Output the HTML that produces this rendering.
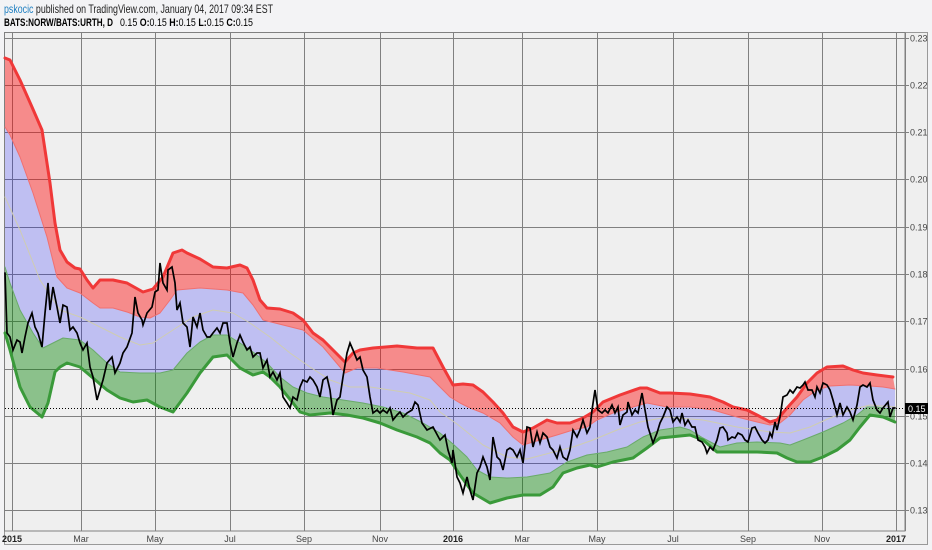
<!DOCTYPE html>
<html><head><meta charset="utf-8"><style>
html,body{margin:0;padding:0;background:#f3f3f5;}
svg{display:block;}
text{font-family:"Liberation Sans",sans-serif;}
</style></head><body>
<svg width="932" height="550" viewBox="0 0 932 550" xmlns="http://www.w3.org/2000/svg">
<rect x="0" y="0" width="932" height="550" fill="#f3f3f5"/>
<text x="4" y="13" font-size="12" fill="#222" textLength="269" lengthAdjust="spacingAndGlyphs"><tspan fill="#1f7fc0">pskocic</tspan> published on TradingView.com, January 04, 2017 09:34 EST</text>
<text x="4" y="26" font-size="11" fill="#000" font-weight="bold" textLength="109" lengthAdjust="spacingAndGlyphs">BATS:NORW/BATS:URTH, D</text>
<text x="120" y="26" font-size="11" fill="#000" textLength="133" lengthAdjust="spacingAndGlyphs">0.15 <tspan font-weight="bold">O:</tspan>0.15 <tspan font-weight="bold">H:</tspan>0.15 <tspan font-weight="bold">L:</tspan>0.15 <tspan font-weight="bold">C:</tspan>0.15</text>

<!-- frame -->
<rect x="4.5" y="32.5" width="923" height="512" fill="#efefef" stroke="#999" stroke-width="1"/>
<rect x="4.5" y="32.5" width="900.5" height="498.5" fill="#efefef" stroke="#808080" stroke-width="1"/>

<!-- grid -->
<g stroke="#808080" stroke-width="1">
<line x1="5" x2="905" y1="38.5" y2="38.5"/>
<line x1="5" x2="905" y1="85.5" y2="85.5"/>
<line x1="5" x2="905" y1="132.5" y2="132.5"/>
<line x1="5" x2="905" y1="179.5" y2="179.5"/>
<line x1="5" x2="905" y1="227.5" y2="227.5"/>
<line x1="5" x2="905" y1="274.5" y2="274.5"/>
<line x1="5" x2="905" y1="321.5" y2="321.5"/>
<line x1="5" x2="905" y1="369.5" y2="369.5"/>
<line x1="5" x2="905" y1="416.5" y2="416.5"/>
<line x1="5" x2="905" y1="463.5" y2="463.5"/>
<line x1="5" x2="905" y1="510.5" y2="510.5"/>
<line y1="33" y2="531" x1="12.5" x2="12.5"/>
<line y1="33" y2="531" x1="81.5" x2="81.5"/>
<line y1="33" y2="531" x1="155.5" x2="155.5"/>
<line y1="33" y2="531" x1="230.5" x2="230.5"/>
<line y1="33" y2="531" x1="304.5" x2="304.5"/>
<line y1="33" y2="531" x1="380.5" x2="380.5"/>
<line y1="33" y2="531" x1="453.5" x2="453.5"/>
<line y1="33" y2="531" x1="522.5" x2="522.5"/>
<line y1="33" y2="531" x1="597.5" x2="597.5"/>
<line y1="33" y2="531" x1="673.5" x2="673.5"/>
<line y1="33" y2="531" x1="748.5" x2="748.5"/>
<line y1="33" y2="531" x1="822.5" x2="822.5"/>
<line y1="33" y2="531" x1="896.5" x2="896.5"/>
</g>

<!-- fills -->
<polygon fill="rgba(255,0,0,0.42)" points="5,58 10,60 20,80 32,107 42,130 50,183 55,223 60,250 67,262 75,268 80,269 87,280 93,288 100,280 113,280 127,283 143,292 153,289 163,277 173,253 182,250 187,253 200,259 213,267 227,268 240,265 247,268 253,280 260,300 267,308 280,309 293,313 303,320 313,333 323,340 333,350 345,362 353,353 360,350 373,348 397,346 417,348 433,348 443,367 453,385 463,384 473,385 483,392 493,402 503,413 513,427 523,432 533,428 547,420 557,423 570,423 583,418 593,412 603,402 620,395 640,388 647,388 660,393 670,393 690,394 710,397 723,402 733,407 747,410 757,415 770,422 777,420 787,408 797,397 807,383 817,373 827,367 843,366 853,370 863,373 877,375 893,377 895,389 883,387 870,386 850,385 830,386 817,390 803,400 790,415 780,423 770,425 757,422 737,417 713,410 690,407 667,407 647,403 633,407 613,413 597,420 587,427 573,430 557,435 540,440 523,445 513,437 500,423 483,413 470,408 460,403 450,397 440,387 430,377 403,372 377,368 357,368 345,373 323,347 303,330 283,325 263,320 253,305 243,293 227,290 200,288 177,290 170,300 160,313 150,318 140,317 127,312 113,308 100,308 93,303 80,293 67,288 57,277 47,237 33,193 20,157 10,135 5,127"/>
<polygon fill="rgba(0,0,255,0.2)" points="5,127 10,135 20,157 33,193 47,237 57,277 67,288 80,293 93,303 100,308 113,308 127,312 140,317 150,318 160,313 170,300 177,290 200,288 227,290 243,293 253,305 263,320 283,325 303,330 323,347 345,373 357,368 377,368 403,372 430,377 440,387 450,397 460,403 470,408 483,413 500,423 513,437 523,445 540,440 557,435 573,430 587,427 597,420 613,413 633,407 647,403 667,407 690,407 713,410 737,417 757,422 770,425 780,423 790,415 803,400 817,390 830,386 850,385 870,386 883,387 895,389 895,410 877,407 867,407 857,415 843,423 823,432 803,440 790,445 780,443 757,442 737,443 720,447 703,438 690,430 680,427 660,430 643,437 627,447 607,452 587,455 567,462 550,473 527,477 507,478 490,477 477,470 467,457 453,444 440,433 423,423 403,413 383,407 363,403 343,400 323,397 307,393 293,387 280,377 267,363 253,352 240,343 227,335 213,335 200,342 187,353 173,370 160,373 140,373 120,372 107,363 93,350 80,340 63,338 53,343 43,348 33,333 20,310 10,283 5,267"/>
<polygon fill="rgba(0,128,0,0.42)" points="5,267 10,283 20,310 33,333 43,348 53,343 63,338 80,340 93,350 107,363 120,372 140,373 160,373 173,370 187,353 200,342 213,335 227,335 240,343 253,352 267,363 280,377 293,387 307,393 323,397 343,400 363,403 383,407 403,413 423,423 440,433 453,444 467,457 477,470 490,477 507,478 527,477 550,473 567,462 587,455 607,452 627,447 643,437 660,430 680,427 690,430 703,438 720,447 737,443 757,442 780,443 790,445 803,440 823,432 843,423 857,415 867,407 877,407 895,410 895,422 883,417 870,415 860,427 850,440 837,450 823,457 810,462 797,462 787,458 777,453 757,452 737,452 717,452 703,440 690,435 670,437 660,438 647,448 633,458 613,462 597,467 590,465 577,468 563,473 553,487 540,495 523,495 507,498 490,503 473,493 460,475 450,460 440,453 430,443 417,437 397,430 380,423 363,418 347,415 330,413 310,415 300,412 293,403 280,387 270,377 263,372 253,375 240,368 227,355 213,357 200,373 187,393 173,412 160,407 147,400 133,402 120,398 107,390 93,378 80,367 67,363 60,367 55,372 48,403 42,417 30,407 20,387 10,350 5,333"/>

<!-- lines -->
<g fill="none" stroke-linejoin="round" stroke-linecap="round">
<polyline stroke="#cfcdb0" stroke-width="1" points="5,197 20,230 40,280 60,310 80,317 100,327 120,337 140,345 153,343 173,330 193,317 213,310 233,313 250,323 270,337 290,353 310,367 330,380 350,387 370,387 390,390 410,393 430,400 440,412 457,424 483,445 507,457 527,459 550,453 573,447 593,440 617,430 640,422 667,417 703,420 737,427 770,432 790,433 810,427 830,418 850,410 870,405 895,407"/>
<polyline stroke="#f07070" stroke-width="1" points="5,127 10,135 20,157 33,193 47,237 57,277 67,288 80,293 93,303 100,308 113,308 127,312 140,317 150,318 160,313 170,300 177,290 200,288 227,290 243,293 253,305 263,320 283,325 303,330 323,347 345,373 357,368 377,368 403,372 430,377 440,387 450,397 460,403 470,408 483,413 500,423 513,437 523,445 540,440 557,435 573,430 587,427 597,420 613,413 633,407 647,403 667,407 690,407 713,410 737,417 757,422 770,425 780,423 790,415 803,400 817,390 830,386 850,385 870,386 883,387 895,389"/>
<polyline stroke="#6aaa6a" stroke-width="1" points="5,267 10,283 20,310 33,333 43,348 53,343 63,338 80,340 93,350 107,363 120,372 140,373 160,373 173,370 187,353 200,342 213,335 227,335 240,343 253,352 267,363 280,377 293,387 307,393 323,397 343,400 363,403 383,407 403,413 423,423 440,433 453,444 467,457 477,470 490,477 507,478 527,477 550,473 567,462 587,455 607,452 627,447 643,437 660,430 680,427 690,430 703,438 720,447 737,443 757,442 780,443 790,445 803,440 823,432 843,423 857,415 867,407 877,407 895,410"/>
<polyline stroke="#f03838" stroke-width="3" points="5,58 10,60 20,80 32,107 42,130 50,183 55,223 60,250 67,262 75,268 80,269 87,280 93,288 100,280 113,280 127,283 143,292 153,289 163,277 173,253 182,250 187,253 200,259 213,267 227,268 240,265 247,268 253,280 260,300 267,308 280,309 293,313 303,320 313,333 323,340 333,350 345,362 353,353 360,350 373,348 397,346 417,348 433,348 443,367 453,385 463,384 473,385 483,392 493,402 503,413 513,427 523,432 533,428 547,420 557,423 570,423 583,418 593,412 603,402 620,395 640,388 647,388 660,393 670,393 690,394 710,397 723,402 733,407 747,410 757,415 770,422 777,420 787,408 797,397 807,383 817,373 827,367 843,366 853,370 863,373 877,375 893,377"/>
<polyline stroke="#3a9a3a" stroke-width="3" points="5,333 10,350 20,387 30,407 42,417 48,403 55,372 60,367 67,363 80,367 93,378 107,390 120,398 133,402 147,400 160,407 173,412 187,393 200,373 213,357 227,355 240,368 253,375 263,372 270,377 280,387 293,403 300,412 310,415 330,413 347,415 363,418 380,423 397,430 417,437 430,443 440,453 450,460 460,475 473,493 490,503 507,498 523,495 540,495 553,487 563,473 577,468 590,465 597,467 613,462 633,458 647,448 660,438 670,437 690,435 703,440 717,452 737,452 757,452 777,453 787,458 797,462 810,462 823,457 837,450 850,440 860,427 870,415 883,417 895,422"/>
<polyline stroke="#000" stroke-width="1.7" stroke-linejoin="miter" points="5,273 7,333 10,337 13,350 17,340 20,342 22,353 25,337 28,323 32,313 35,327 38,333 42,347 45,313 48,283 50,310 53,287 57,307 60,323 63,305 67,307 70,330 73,327 77,333 80,343 83,350 87,343 90,367 93,377 97,400 100,390 103,380 107,363 112,357 115,373 120,363 123,353 127,347 132,333 135,297 138,313 142,320 143,325 147,313 152,307 155,292 158,290 160,263 163,283 167,290 168,270 172,267 175,283 177,310 180,303 183,323 187,327 190,347 193,317 197,327 200,313 203,330 207,337 210,337 213,333 217,328 220,333 223,323 227,323 230,343 233,357 237,343 240,335 243,342 247,350 250,347 253,357 257,353 260,353 263,368 267,360 270,377 273,372 277,380 280,373 283,397 287,403 290,408 293,397 297,400 300,387 303,380 307,382 310,377 313,380 317,387 320,397 323,380 327,377 330,390 333,415 337,400 340,397 343,377 347,353 350,343 353,350 357,360 360,357 363,370 367,377 370,397 373,413 377,410 380,413 383,410 387,413 390,408 393,420 397,415 400,412 403,417 407,413 412,410 415,402 418,405 422,423 427,430 433,427 440,440 445,435 448,450 452,463 453,450 457,477 460,483 463,493 467,477 470,490 473,500 477,473 480,467 483,457 487,467 490,480 493,437 497,457 500,460 503,470 507,450 510,448 513,450 517,457 520,450 523,463 527,427 530,428 533,447 537,432 540,443 543,433 547,437 550,447 553,450 557,458 560,447 563,457 567,460 570,450 573,430 577,437 580,430 583,420 587,433 590,427 592,410 595,390 598,410 602,413 605,410 608,413 612,405 615,413 618,407 620,425 623,415 627,412 628,402 632,415 635,410 638,413 642,393 645,410 648,427 653,443 657,433 660,423 663,417 667,407 670,410 673,422 677,417 680,422 682,413 685,425 688,420 692,427 695,427 698,440 702,442 705,447 707,453 710,447 713,450 717,440 720,428 723,427 727,433 728,440 732,437 735,438 738,433 742,435 745,440 748,442 752,428 755,427 758,433 762,440 765,443 768,440 770,433 772,437 775,422 777,430 780,417 783,397 787,395 790,390 793,393 797,387 800,388 803,385 805,382 808,390 812,390 815,397 817,387 820,393 823,383 827,385 830,390 833,400 837,415 840,403 843,415 847,407 850,412 853,420 857,405 860,387 863,385 867,387 870,383 873,400 877,410 880,413 883,408 888,402 890,417 893,408 895,408"/>
</g>

<!-- last price dotted line -->
<line x1="5" x2="905" y1="408.5" y2="408.5" stroke="#000" stroke-width="1" stroke-dasharray="1,2"/>

<!-- right axis -->
<line x1="905.5" x2="905.5" y1="33" y2="531" stroke="#808080"/>
<g stroke="#808080">
<line x1="905" x2="909" y1="38.5" y2="38.5"/>
<line x1="905" x2="909" y1="85.5" y2="85.5"/>
<line x1="905" x2="909" y1="132.5" y2="132.5"/>
<line x1="905" x2="909" y1="179.5" y2="179.5"/>
<line x1="905" x2="909" y1="227.5" y2="227.5"/>
<line x1="905" x2="909" y1="274.5" y2="274.5"/>
<line x1="905" x2="909" y1="321.5" y2="321.5"/>
<line x1="905" x2="909" y1="369.5" y2="369.5"/>
<line x1="905" x2="909" y1="416.5" y2="416.5"/>
<line x1="905" x2="909" y1="463.5" y2="463.5"/>
<line x1="905" x2="909" y1="510.5" y2="510.5"/>
</g>
<g font-size="9" fill="#444">
<text x="910" y="41.5">0.23</text>
<text x="910" y="88.5">0.22</text>
<text x="910" y="135.5">0.21</text>
<text x="910" y="182.5">0.20</text>
<text x="910" y="230.5">0.19</text>
<text x="910" y="277.5">0.18</text>
<text x="910" y="324.5">0.17</text>
<text x="910" y="372.5">0.16</text>
<text x="910" y="419.5">0.15</text>
<text x="910" y="466.5">0.14</text>
<text x="910" y="513.5">0.13</text>
</g>
<rect x="905" y="403" width="23" height="11" fill="#000"/>
<text x="908" y="412" font-size="9" fill="#fff">0.15</text>

<!-- bottom axis -->
<g font-size="9" fill="#444" text-anchor="middle">
<text x="12" y="542" font-weight="bold" fill="#222">2015</text>
<text x="81" y="542">Mar</text>
<text x="155" y="542">May</text>
<text x="230" y="542">Jul</text>
<text x="304" y="542">Sep</text>
<text x="380" y="542">Nov</text>
<text x="453" y="542" font-weight="bold" fill="#222">2016</text>
<text x="522" y="542">Mar</text>
<text x="597" y="542">May</text>
<text x="673" y="542">Jul</text>
<text x="748" y="542">Sep</text>
<text x="822" y="542">Nov</text>
<text x="896" y="542" font-weight="bold" fill="#222">2017</text>
</g>
</svg>
</body></html>
